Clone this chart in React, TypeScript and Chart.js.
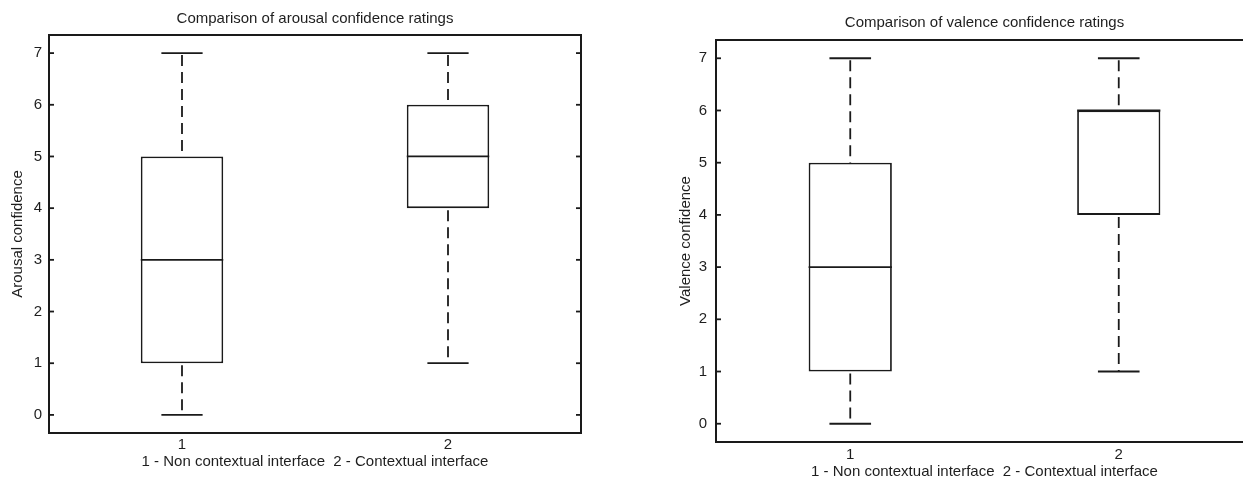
import React, { useEffect, useRef } from 'react';
import { Chart, registerables } from 'chart.js';

Chart.register(...registerables);

// ---- Data ----
const categories = ['1', '2'];
const yTicks = [0, 1, 2, 3, 4, 5, 6, 7];
const yMin = -0.35;
const yMax = 7.35;
const xAxisTitle = '1 - Non contextual interface  2 - Contextual interface';

const arousalLow = [0, 1];
const arousalQ1 = [1, 4];
const arousalMedian = [3, 5];
const arousalQ3 = [5, 6];
const arousalHigh = [7, 7];

const valenceLow = [0, 1];
const valenceQ1 = [1, 4];
const valenceMedian = [3, 6];
const valenceQ3 = [5, 6];
const valenceHigh = [7, 7];

const INK = '#1a1a1a';
const TEXT = '#1e1e1e';
const FONT = '"Liberation Sans", Arial, Helvetica, sans-serif';

type Stats = { low: number[]; q1: number[]; median: number[]; q3: number[]; high: number[] };

function makeBoxPlugin(stats: Stats) {
  return {
    id: 'boxExtras',
    afterDatasetsDraw(chart: any) {
      const { ctx, chartArea: a } = chart;
      const x = chart.scales.x;
      const y = chart.scales.y;
      const meta = chart.getDatasetMeta(0);
      const seg = (x1: number, y1: number, x2: number, y2: number) => {
        ctx.beginPath();
        ctx.moveTo(x1, y1);
        ctx.lineTo(x2, y2);
        ctx.stroke();
      };
      ctx.save();
      ctx.strokeStyle = INK;
      ctx.lineWidth = 1.8;
      meta.data.forEach((bar: any, i: number) => {
        const cx = x.getPixelForValue(i);
        const half = bar.width / 2;
        const capHalf = half / 2;
        ctx.setLineDash([]);
        const my = y.getPixelForValue(stats.median[i]);
        seg(cx - half, my, cx + half, my);
        const hy = y.getPixelForValue(stats.high[i]);
        const ly = y.getPixelForValue(stats.low[i]);
        seg(cx - capHalf, hy, cx + capHalf, hy);
        seg(cx - capHalf, ly, cx + capHalf, ly);
        ctx.setLineDash([11, 6]);
        seg(cx, hy + 2, cx, y.getPixelForValue(stats.q3[i]));
        seg(cx, y.getPixelForValue(stats.q1[i]) + 2, cx, ly);
      });
      ctx.setLineDash([]);
      ctx.lineWidth = 2;
      ctx.strokeRect(a.left, a.top, a.right - a.left, a.bottom - a.top);
      ctx.lineWidth = 1.8;
      y.ticks.forEach((t: any) => {
        const py = y.getPixelForValue(t.value);
        seg(a.left, py, a.left + 5, py);
        seg(a.right - 5, py, a.right, py);
      });
      ctx.restore();
    },
  };
}

type Geo = {
  left: number;
  width: number;
  height: number;
  titleTop: number;
  titleBottom: number;
  yAxisW: number;
  xAxisH: number;
  xTickPad: number;
  xTitlePad: number;
  yTickPad: number;
  yTitlePad: number;
};

function BoxChart({ title, yTitle, stats, geo }: { title: string; yTitle: string; stats: Stats; geo: Geo }) {
  const ref = useRef<HTMLCanvasElement | null>(null);
  useEffect(() => {
    if (!ref.current) return;
    const font = { family: FONT, size: 15, weight: 'normal' as const };
    const chart = new Chart(ref.current, {
      type: 'bar',
      data: {
        labels: categories,
        datasets: [
          {
            data: stats.q1.map((v, i) => [v, stats.q3[i]]) as any,
            backgroundColor: '#ffffff',
            borderColor: INK,
            borderWidth: 1.8,
            borderSkipped: false,
            barPercentage: 0.31,
            categoryPercentage: 1,
          },
        ],
      },
      options: {
        animation: false,
        responsive: false,
        events: [],
        layout: { padding: 0 },
        plugins: {
          legend: { display: false },
          tooltip: { enabled: false },
          title: {
            display: true,
            text: title,
            color: TEXT,
            font,
            padding: { top: geo.titleTop, bottom: geo.titleBottom },
          },
        },
        scales: {
          x: {
            type: 'category',
            offset: true,
            grid: { display: false, drawTicks: false },
            border: { display: false },
            ticks: { color: TEXT, font, padding: geo.xTickPad },
            title: { display: true, text: xAxisTitle, color: TEXT, font, padding: { top: 0, bottom: geo.xTitlePad } },
            afterFit: (s: any) => {
              s.height = geo.xAxisH;
            },
          },
          y: {
            type: 'linear',
            position: 'left',
            min: yMin,
            max: yMax,
            afterBuildTicks: (s: any) => {
              s.ticks = yTicks.map((v) => ({ value: v }));
            },
            grid: { display: false, drawTicks: false },
            border: { display: false },
            ticks: { color: TEXT, font, padding: geo.yTickPad },
            title: { display: true, text: yTitle, color: TEXT, font, padding: { top: geo.yTitlePad, bottom: 0 } },
            afterFit: (s: any) => {
              s.width = geo.yAxisW;
            },
          },
          y2: {
            type: 'linear',
            position: 'right',
            min: yMin,
            max: yMax,
            grid: { display: false, drawTicks: false },
            border: { display: false },
            ticks: { display: false },
            afterFit: (s: any) => {
              s.width = geo.yAxisW;
            },
          },
        },
      },
      plugins: [makeBoxPlugin(stats)],
    });
    return () => chart.destroy();
  }, []);
  return (
    <div style={{ position: 'absolute', left: geo.left, top: 0, width: geo.width, height: geo.height }}>
      <canvas ref={ref} width={geo.width} height={geo.height} style={{ width: geo.width, height: geo.height, display: 'block' }} />
    </div>
  );
}

const leftGeo: Geo = {
  left: 0,
  width: 630,
  height: 478,
  titleTop: 10,
  titleBottom: 7,
  yAxisW: 49,
  xAxisH: 45,
  xTickPad: 3,
  xTitlePad: 7,
  yTickPad: 7,
  yTitlePad: 9,
};

const rightGeo: Geo = {
  left: 665,
  width: 639,
  height: 490,
  titleTop: 14,
  titleBottom: 8,
  yAxisW: 51,
  xAxisH: 48,
  xTickPad: 4,
  xTitlePad: 9,
  yTickPad: 9,
  yTitlePad: 12,
};

export default function App() {
  return (
    <div style={{ position: 'absolute', left: 0, top: 0, width: 1243, height: 478, overflow: 'hidden', background: '#ffffff' }}>
      <BoxChart
        title="Comparison of arousal confidence ratings"
        yTitle="Arousal confidence"
        stats={{ low: arousalLow, q1: arousalQ1, median: arousalMedian, q3: arousalQ3, high: arousalHigh }}
        geo={leftGeo}
      />
      <BoxChart
        title="Comparison of valence confidence ratings"
        yTitle="Valence confidence"
        stats={{ low: valenceLow, q1: valenceQ1, median: valenceMedian, q3: valenceQ3, high: valenceHigh }}
        geo={rightGeo}
      />
    </div>
  );
}
